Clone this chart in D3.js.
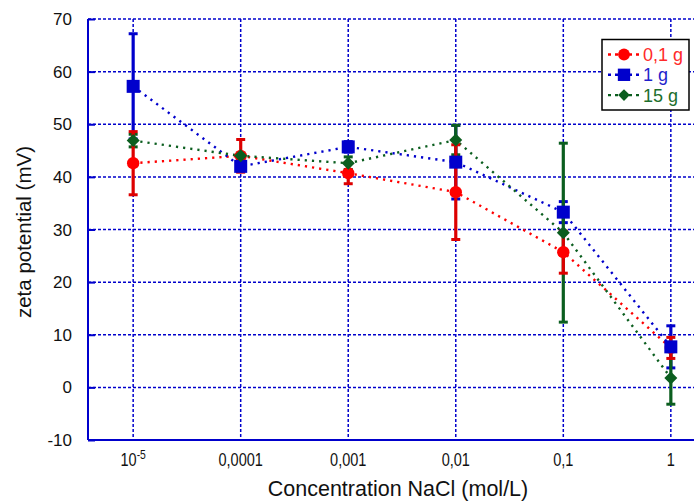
<!DOCTYPE html>
<html><head><meta charset="utf-8">
<script src="https://cdn.jsdelivr.net/npm/d3@7"></script>
<style>body{margin:0;background:#fff}svg{display:block;font-family:"Liberation Sans",Arial,sans-serif}</style>
</head><body><svg id="c" width="694" height="502"></svg>
<script>
const categories = ["1e-5", "0.0001", "0.001", "0.01", "0.1", "1"];
const tickLabels = ["10^-5", "0,0001", "0,001", "0,01", "0,1", "1"];
const yTicks = [-10, 0, 10, 20, 30, 40, 50, 60, 70];
const seriesNames = ["0,1 g", "1 g", "15 g"];
const red = [42.6, 44.0, 40.7, 37.1, 25.7, 7.5];
const redErr = [6.0, 3.1, 2.0, 9.0, 4.0, 2.0];
const blue = [57.2, 42.0, 45.7, 42.8, 33.3, 7.7];
const blueErr = [10.0, 1.0, 1.0, 7.0, 2.0, 4.0];
const green = [46.9, 44.0, 42.6, 47.0, 29.4, 1.8];
const greenErr = [1.2, 0.5, 1.2, 2.8, 17.0, 5.0];

const svg = d3.select("#c");
const L = 88, R = 716, T = 19, B = 440;
const x = d3.scalePoint().domain(categories).range([L, R]).padding(0.42);
const y = d3.scaleLinear().domain([-10, 70]).range([B, T]);
const gridC = "#0000cc";

const series = [
  {name: seriesNames[0], v: red, e: redErr, col: "#ff0000", ecol: "#dd0000", tcol: "#ff2a2a", shape: "circle"},
  {name: seriesNames[1], v: blue, e: blueErr, col: "#0000cc", ecol: "#0000cc", tcol: "#1f1fcc", shape: "square"},
  {name: seriesNames[2], v: green, e: greenErr, col: "#0b5e1f", ecol: "#0b5e1f", tcol: "#1c6e2c", shape: "diamond"}
];

// grid
const g = svg.append("g");
yTicks.filter(t => t > -10).forEach(t => {
  g.append("line").attr("x1", L).attr("x2", 694).attr("y1", y(t)).attr("y2", y(t))
    .attr("stroke", gridC).attr("stroke-width", 1.5).attr("stroke-dasharray", "3,2");
});
categories.forEach(c => {
  g.append("line").attr("x1", x(c)).attr("x2", x(c)).attr("y1", T).attr("y2", B)
    .attr("stroke", gridC).attr("stroke-width", 1.5).attr("stroke-dasharray", "3,2");
});
// axes
const yAxis = d3.axisLeft(y).tickValues(yTicks).tickSize(-7).tickFormat("");
const ya = svg.append("g").attr("transform", `translate(${L},0)`).call(yAxis);
ya.selectAll("path,line").attr("stroke", gridC).attr("stroke-width", 2);
ya.select(".domain").attr("d", `M0,${T}V${B}`);
svg.append("line").attr("x1", L).attr("x2", 694).attr("y1", B).attr("y2", B).attr("stroke", gridC).attr("stroke-width", 2);

// y tick labels
yTicks.forEach(t => {
  svg.append("text").attr("x", 72).attr("y", y(t) + 6).attr("text-anchor", "end")
    .attr("font-size", 17).attr("fill", "#111").text(t);
});
// x tick labels
categories.forEach((c, i) => {
  const lab = tickLabels[i];
  const t = svg.append("text").attr("text-anchor", "middle").attr("font-size", 17.5).attr("fill", "#111")
    .attr("transform", `translate(${x(c)},466) scale(0.83,1)`);
  if (lab.includes("^")) {
    const [b, s] = lab.split("^");
    t.append("tspan").text(b);
    t.append("tspan").attr("dy", -7).attr("font-size", 12.5).text(s);
  } else t.text(lab);
});
svg.append("text").attr("x", 398).attr("y", 496).attr("text-anchor", "middle").attr("font-size", 21.5)
  .attr("fill", "#111").text("Concentration NaCl (mol/L)");
svg.append("text").attr("transform", "translate(31,232) rotate(-90)").attr("text-anchor", "middle")
  .attr("font-size", 20.5).attr("fill", "#111").text("zeta potential (mV)");

// lines
const line = d3.line().x((d, i) => x(categories[i])).y(d => y(d));
series.forEach(s => {
  svg.append("path").attr("d", line(s.v)).attr("fill", "none").attr("stroke", s.col)
    .attr("stroke-width", 2.4).attr("stroke-dasharray", "2.2,5");
});
// error bars
[1, 2, 0].forEach(k => {
  const s = series[k];
  s.v.forEach((v, i) => {
    const cx = x(categories[i]);
    const g2 = svg.append("g").attr("stroke", s.ecol);
    g2.append("line").attr("x1", cx).attr("x2", cx).attr("y1", y(v - s.e[i])).attr("y2", y(v + s.e[i])).attr("stroke-width", 3.2);
    [v - s.e[i], v + s.e[i]].forEach(w => {
      g2.append("line").attr("x1", cx - 4.5).attr("x2", cx + 4.5).attr("y1", y(w)).attr("y2", y(w)).attr("stroke-width", 3);
    });
  });
});
function marker(sel, shape, cx, cy, col, scale) {
  scale = scale || 1;
  if (shape === "circle") sel.append("circle").attr("cx", cx).attr("cy", cy).attr("r", 6.2 * scale).attr("fill", col);
  else if (shape === "square") sel.append("rect").attr("x", cx - 6.5 * scale).attr("y", cy - 6.5 * scale)
    .attr("width", 13 * scale).attr("height", 13 * scale).attr("fill", col);
  else sel.append("path").attr("d", `M${cx},${cy - 6.5 * scale}L${cx + 6.5 * scale},${cy}L${cx},${cy + 6.5 * scale}L${cx - 6.5 * scale},${cy}Z`).attr("fill", col);
}
series.forEach(s => {
  s.v.forEach((v, i) => marker(svg, s.shape, x(categories[i]), y(v), s.col));
});

// legend
const lg = svg.append("g");
lg.append("rect").attr("x", 602).attr("y", 39.5).attr("width", 87).attr("height", 70.5)
  .attr("fill", "#fff").attr("stroke", "#000").attr("stroke-width", 1.5);
series.forEach((s, i) => {
  const ly = 54.5 + i * 20.3;
  lg.append("line").attr("x1", 608).attr("x2", 641).attr("y1", ly).attr("y2", ly).attr("stroke", s.col)
    .attr("stroke-width", 2.4).attr("stroke-dasharray", "3,4");
  marker(lg, s.shape, 624, ly, s.col, s.shape === "diamond" ? 0.9 : 0.95);
  lg.append("text").attr("x", 643).attr("y", ly + 6.5).attr("font-size", 18).attr("fill", s.tcol).text(s.name);
});
</script></body></html>
